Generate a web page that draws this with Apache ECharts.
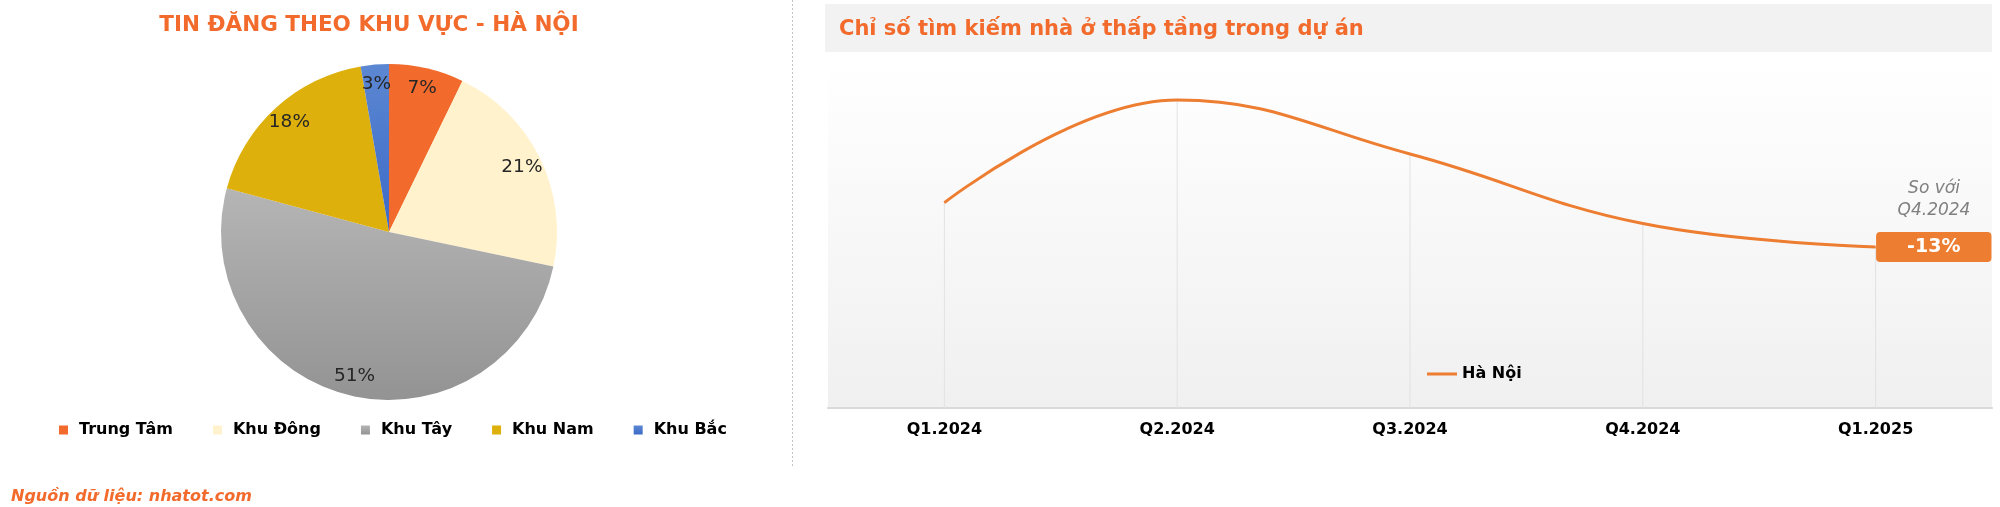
<!DOCTYPE html>
<html>
<head>
<meta charset="utf-8">
<script src="https://cdn.jsdelivr.net/npm/echarts@6/dist/echarts.min.js"></script>
<style>
html,body{margin:0;padding:0;background:#fff;}
#c{width:2000px;height:507px;}
</style>
</head>
<body>
<div id="c"></div>
<script>
// ---- data ----
const regionNames = ['Trung Tâm', 'Khu Đông', 'Khu Tây', 'Khu Nam', 'Khu Bắc'];
const regionShares = [7.2, 21.1, 50.9, 18.1, 2.7];
const quarters = ['Q1.2024', 'Q2.2024', 'Q3.2024', 'Q4.2024', 'Q1.2025'];
const searchIndex = [59, 88.5, 73, 53, 46.3];
const lineName = 'Hà Nội';

const FONT = "'DejaVu Sans', sans-serif";
const ORANGE = '#F26B2C';
const LINE = '#ED7D31';

const regionColors = [
  '#F26B2C',
  '#FFF2CC',
  {type:'linear',x:0,y:0,x2:0,y2:1,colorStops:[{offset:0,color:'#B5B5B5'},{offset:1,color:'#939393'}]},
  '#DDB00B',
  {type:'linear',x:0,y:0,x2:0,y2:1,colorStops:[{offset:0,color:'#5C87D2'},{offset:1,color:'#3C6AC7'}]}
];

const pieData = regionNames.map((n,i)=>({name:n, value:regionShares[i], itemStyle:{color:regionColors[i]}}));
const pieLabelData = regionNames.map((n,i)=>({name:n, value:regionShares[i]}));

const last = searchIndex.length - 1;
const change = Math.round((searchIndex[last] / searchIndex[last-1] - 1) * 100);
const lineData = searchIndex.map((v,i)=> i === last ? {
  value: v,
  label: {
    show: true, position: 'right', distance: 0,
    formatter: (change > 0 ? '+' : '') + change + '%',
    backgroundColor: LINE, color: '#fff', fontWeight: 'bold', fontSize: 19,
    fontFamily: FONT, lineHeight: 20, padding: [5, 31, 5, 31], borderRadius: 4
  }
} : v);

const chart = echarts.init(document.getElementById('c'));
chart.setOption({
  animation: false,
  backgroundColor: '#fff',
  title: [
    {text: 'TIN ĐĂNG THEO KHU VỰC - HÀ NỘI', left: 364, top: 9, textAlign: 'center',
     textStyle: {color: ORANGE, fontSize: 21.5, fontWeight: 'bold', fontFamily: FONT}},
    {text: 'Chỉ số tìm kiếm nhà ở thấp tầng trong dự án', left: 834, top: 14,
     textStyle: {color: ORANGE, fontSize: 21, fontWeight: 'bold', fontFamily: FONT}},
    {text: 'Nguồn dữ liệu: nhatot.com', left: 6, top: 484,
     textStyle: {color: ORANGE, fontSize: 16, fontWeight: 'bold', fontStyle: 'italic', fontFamily: FONT}}
  ],
  graphic: [
    {type:'rect', shape:{x:825, y:4, width:1167, height:48}, style:{fill:'#F2F2F2'}, z:-10},
    {type:'line', shape:{x1:792.5, y1:0, x2:792.5, y2:468}, style:{stroke:'#C4C4C4', lineWidth:1, lineDash:[2,2]}},
    {type:'text', x:1934, y:189, style:{text:'So với', textAlign:'center', textVerticalAlign:'middle', fill:'#808080', fontSize:17, fontStyle:'italic', fontFamily:FONT}},
    {type:'text', x:1934, y:211, style:{text:'Q4.2024', textAlign:'center', textVerticalAlign:'middle', fill:'#808080', fontSize:17, fontStyle:'italic', fontFamily:FONT}}
  ],
  legend: [
    {data: regionNames, left: 54, top: 417, itemWidth: 9, itemHeight: 9, itemGap: 40, icon: 'rect',
     textStyle: {fontSize: 16, fontWeight: 'bold', color: '#000', fontFamily: FONT, padding: [0,0,0,6]}},
    {data: [lineName], left: 1422, top: 361, itemWidth: 30, itemHeight: 3, itemGap: 10, icon: 'rect',
     textStyle: {fontSize: 16, fontWeight: 'bold', color: '#000', fontFamily: FONT}}
  ],
  grid: {left: 828, right: 8, top: 60, bottom: 99, show: true, borderWidth: 0,
    backgroundColor: {type:'linear',x:0,y:0,x2:0,y2:1,colorStops:[{offset:0,color:'#FFFFFF'},{offset:1,color:'#F0F0F0'}]}},
  xAxis: {type: 'category', data: quarters, boundaryGap: true,
    axisLine: {lineStyle: {color: '#D9D9D9', width: 2}},
    axisTick: {show: false},
    axisLabel: {fontSize: 16, fontWeight: 'bold', color: '#000', fontFamily: FONT, margin: 14},
    splitLine: {show: false}},
  yAxis: {type: 'value', min: 0, max: 100, show: false},
  series: [
    {type: 'pie', name: 'regions', center: [389, 232], radius: [0, 168], startAngle: 90, clockwise: true,
     data: pieData, label: {show: false}, labelLine: {show: false}, silent: true},
    {type: 'pie', name: 'regionLabels', center: [389, 232], radius: [122, 168], startAngle: 90, clockwise: true,
     data: pieLabelData, silent: true, itemStyle: {color: 'rgba(0,0,0,0)'},
     label: {show: true, position: 'inside', color: '#262626', fontSize: 18.5, fontFamily: FONT,
       formatter: p => Math.round(p.value) + '%'},
     labelLine: {show: false}, legendHoverLink: false},
    {type: 'bar', name: 'drop', data: searchIndex, barWidth: 1, itemStyle: {color: '#E2E2E2'}, silent: true, z: 1},
    {type: 'line', name: lineName, data: lineData, smooth: 0.42, symbol: 'circle', symbolSize: 1, showSymbol: true,
     lineStyle: {color: LINE, width: 3}, itemStyle: {color: LINE}, z: 3}
  ]
});
</script>
</body>
</html>
